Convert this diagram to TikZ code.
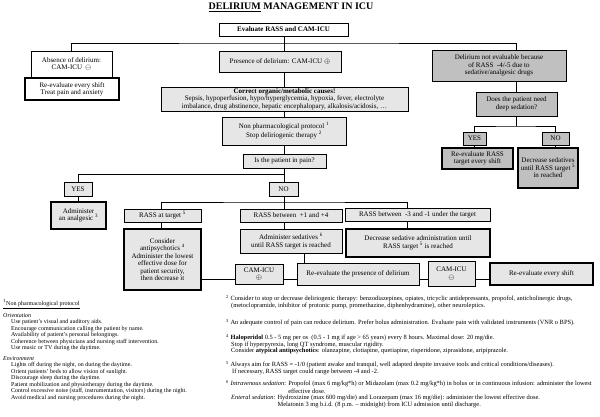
\documentclass[tikz,border=0pt]{standalone}
\usepackage{fontspec}
\setmainfont{Liberation Serif}
\usepackage{xcolor}

\definecolor{boxlight}{HTML}{E6E6E6}
\definecolor{boxdark}{HTML}{C0C0C0}
\newcommand{\bfnt}{\fontsize{7}{7.4}\selectfont}
\newcommand{\ffnt}{\fontsize{6}{6.5}\selectfont}
\newcommand{\rfnt}{\fontsize{6.4}{6.4}\selectfont}

\begin{document}
\begin{tikzpicture}[x=1pt, y=-1pt,
	flowbox/.style={draw, line width=0.6pt, inner sep=0pt, align=center, font=\bfnt},
	wbox/.style={flowbox, fill=white},
	lbox/.style={flowbox, fill=boxlight},
	dbox/.style={flowbox, fill=boxdark},
	heavy/.style={line width=2.2pt},
	wh/.style 2 args={minimum width=#1pt, minimum height=#2pt},
	conn/.style={line width=0.6pt},
	fnote/.style={anchor=north west, inner sep=0pt, align=left, font=\ffnt},
	rnote/.style={fnote, font=\rfnt}]
			\path[use as bounding box, fill=white] (0,0) rectangle (600,416);
			\node[font=\fontsize{10}{12}\selectfont\bfseries] (title) at (291,7) {\underline{DELIRIUM} MANAGEMENT IN ICU};
			\node[wbox, wh={129}{13}, font=\bfnt\bfseries] (eval) at (283.5,29.5) {Evaluate RASS and CAM-ICU};
			\node[wbox, wh={81}{26}] (absent) at (71.5,64) {Absence of delirium:\\CAM-ICU \,$\ominus$};
			\node[wbox, heavy, wh={94}{22}] (reshift) at (72,89) {Re-evaluate every shift\\Treat pain and anxiety};
			\node[lbox, wh={122}{21}] (pres) at (280,61.5) {Presence of delirium: CAM-ICU $\oplus$};
			\node[lbox, wh={247}{24}] (correct) at (284.5,99) {\textbf{Correct organic/metabolic causes!}\\Sepsis, hypoperfusion, hypo/hyperglycemia, hypoxia, fever, electrolyte\\imbalance, drug abstinence, hepatic encephalopary, alkalosis/acidosis, \dots};
			\node[lbox, wh={124}{28}] (nonph) at (284,131) {Non pharmacological protocol \textsuperscript{1}\\Stop deliriogenic therapy \textsuperscript{2}};
			\node[lbox, wh={83}{14}] (pain) at (284.5,161) {Is the patient in pain?};
			\node[lbox, wh={28}{14}] (yesl) at (78,189) {YES};
			\node[lbox, wh={29}{14}] (nol) at (283.5,189) {NO};
			\node[lbox, heavy, wh={55}{27}] (analg) at (78.5,215.5) {Administer\\an analgesic \textsuperscript{3}};
			\node[lbox, wh={77}{13}] (attarget) at (162.5,215.5) {RASS at target \textsuperscript{5}};
			\node[lbox, wh={102}{13}] (betplus) at (291,215.5) {RASS between \ +1 and +4};
			\node[lbox, wh={145}{13}] (betminus) at (417.5,215) {RASS between \ -3 and -1 under the target};
			\node[lbox, heavy, wh={77}{61}] (consider) at (162.5,259.5) {Consider\\antipsychotics \textsuperscript{4}\\Administer the lowest\\effective dose for\\patient security,\\then decrease it};
			\node[lbox, wh={102}{24}] (admsed) at (291,241) {Administer sedatives \textsuperscript{6}\\until RASS target is reached};
			\node[lbox, heavy, wh={144}{28}] (decsed) at (418,243) {Decrease sedative administration until\\RASS target \textsuperscript{5} is reached};
			\node[lbox, wh={48}{20}] (camplus) at (259,274) {CAM-ICU\\$\oplus$};
			\node[lbox, wh={122}{22}] (redel) at (358,274) {Re-evaluate the presence of delirium};
			\node[lbox, wh={47}{25}] (camminus) at (451.5,273.5) {CAM-ICU\\$\ominus$};
			\node[lbox, heavy, wh={103}{22}] (reshift2) at (541.5,274) {Re-evaluate every shift};
			\node[dbox, wh={134}{31}] (noteval) at (499,65.5) {Delirium not evaluable because\\of RASS \ -4/-5 due to\\sedative/analgesic drugs};
			\node[dbox, wh={81}{24}] (deep) at (516.5,104) {Does the patient need\\deep sedation?};
			\node[dbox, wh={23}{13}] (yesr) at (474.5,138.5) {YES};
			\node[dbox, wh={27}{13}] (nor) at (555.5,138.5) {NO};
			\node[dbox, heavy, wh={71}{21}] (rerass) at (477.5,158.5) {Re-evaluate RASS\\target every shift};
			\node[dbox, heavy, wh={60}{40}] (decr) at (548,168) {Decrease sedatives\\until RASS target \textsuperscript{5}\\in reached};

			% connectors
			\coordinate (trunk) at (284,0);
			\coordinate (topsplit) at (284,43);
			\coordinate (painsplit) at (284,174);
			\coordinate (nosplit) at (284,202);
			\coordinate (targetcol) at (161,0);
			\coordinate (minuscol) at (407,0);
			\coordinate (sedcol) at (304,0);
			\coordinate (lowrow) at (0,279);
			\coordinate (deepsplit) at (516.5,126);
			\draw[conn] (trunk |- eval.south) -- (trunk |- pres.north);
			\draw[conn] (absent.north) |- (topsplit) -| (noteval.north -| deep.north);
			\draw[conn] (trunk |- pres.south) -- (trunk |- correct.north);
			\draw[conn] (trunk |- correct.south) -- (trunk |- nonph.north);
			\draw[conn] (trunk |- nonph.south) -- (trunk |- pain.north);
			\draw[conn] (trunk |- pain.south) -- (trunk |- nol.north);
			\draw[conn] (yesl.north) |- (painsplit);
			\draw[conn] (yesl.south) -- (yesl.south |- analg.north);
			\draw[conn] (trunk |- nol.south) -- (trunk |- betplus.north);
			\draw[conn] (targetcol |- attarget.north) |- (nosplit) -| (minuscol |- betminus.north);
			\draw[conn] (targetcol |- attarget.south) -- (targetcol |- consider.north);
			\draw[conn] (trunk |- betplus.south) -- (trunk |- admsed.north);
			\draw[conn] (minuscol |- betminus.south) -- (minuscol |- decsed.north);
			\draw[conn] (sedcol |- admsed.south) -- (sedcol |- redel.north);
			\draw[conn] (consider.east |- lowrow) -- (camplus.west |- lowrow);
			\draw[conn] (camplus.east |- lowrow) -- (redel.west |- lowrow);
			\draw[conn] (redel.east |- lowrow) -- (camminus.west |- lowrow);
			\draw[conn] (camminus.east |- lowrow) -- (reshift2.west |- lowrow);
			\draw[conn] (noteval.south -| deep.north) -- (deep.north);
			\draw[conn] (deep.south) -- (deepsplit);
			\draw[conn] (yesr.north) |- (deepsplit) -| (nor.north);
			\draw[conn] (yesr.south) -- (yesr.south |- rerass.north);
			\draw[conn] (nor.south) -- (nor.south |- decr.north);

			% footnotes
			\node[fnote] (fnleft) at (3,299) {\underline{\textsuperscript{1}Non pharmacological protocol}\\[4pt]
				\textit{Orientation}\\
				\hspace*{8pt}Use patient’s visual and auditory aids.\\
				\hspace*{8pt}Encourage communication calling the patient by name.\\
				\hspace*{8pt}Availability of patient’s personal belongings.\\
				\hspace*{8pt}Coherence between physicians and nursing staff intervention.\\
				\hspace*{8pt}Use music or TV during the daytime.\\[4pt]
				\textit{Environment}\\
				\hspace*{8pt}Lights off during the night, on during the daytime.\\
				\hspace*{8pt}Orient patients’ beds to allow vision of sunlight.\\
				\hspace*{8pt}Discourage sleep during the daytime.\\
				\hspace*{8pt}Patient mobilization and physiotherapy during the daytime.\\
				\hspace*{8pt}Control excessive noise (staff, instrumentation, visitors) during the night.\\
				\hspace*{8pt}Avoid medical and nursing procedures during the night.};
			\node[rnote] (fn2) at (226,295) {\textsuperscript{2} Consider to stop or decrease deliriogenic therapy: benzodiazepines, opiates, tricyclic antidepressants, propofol, anticholinergic drugs,\\
				\hspace*{5pt}(metoclopramide, inhibitor of protonic pump, promethazine, diphenhydramine), other neuroleptics.};
			\node[rnote] (fn3) at (226,319) {\textsuperscript{3} An adequate control of pain can reduce delirium. Prefer bolus administration. Evaluate pain with validated instruments (VNR o BPS).};
			\node[rnote] (fn4) at (226,334) {\textsuperscript{4} \textbf{Haloperidol} 0.5 - 5 mg per os \ (0.5 - 1 mg if age > 65 years) every 8 hours. Maximal dose: 20 mg/die.\\
				\hspace*{5pt}Stop if hyperpyrexia, long QT syndrome, muscular rigidity.\\
				\hspace*{5pt}Consider \textbf{atypical antipsychotics}: olanzapine, clotiapine, quetiapine, risperidone, ziprasidone, aripiprazole.};
			\node[rnote] (fn5) at (226,361) {\textsuperscript{5} Always aim for RASS = -1/0 (patient awake and tranquil, well adapted despite invasive tools and critical conditions/diseases).\\
				\hspace*{6pt}If necessary, RASS target could range between -4 and -2.};
			\node[rnote] (fn6) at (226,380) {\textsuperscript{6} \textit{Intravenous sedation}: Propofol (max 6 mg/kg*h) or Midazolam (max 0.2 mg/kg*h) in bolus or in continuous infusion: administer the lowest\\
				\phantom{\textsuperscript{6} \textit{Intravenous sedation}: }effective dose.\\
				\hspace*{5pt}\textit{Enteral sedation}: Hydroxizine (max 600 mg/die) and Lorazepam (max 16 mg/die): administer the lowest effective dose.\\
				\hspace*{5pt}\phantom{\textit{Enteral sedation}: }Melatonin 3 mg b.i.d. (8 p.m. – midnight) from ICU admission until discharge.};
\end{tikzpicture}
\end{document}
